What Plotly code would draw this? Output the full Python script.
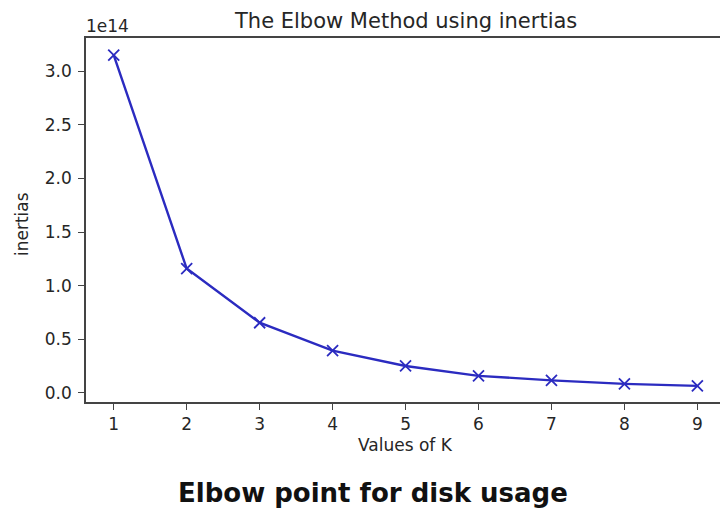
import plotly.graph_objects as go

# K-means inertia for each number of clusters
k_values = [1, 2, 3, 4, 5, 6, 7, 8, 9]
inertias = [3.15e14, 1.16e14, 0.655e14, 0.395e14, 0.252e14, 0.16e14, 0.118e14, 0.085e14, 0.066e14]

y_tick_vals = [0.0, 0.5e14, 1.0e14, 1.5e14, 2.0e14, 2.5e14, 3.0e14]
y_tick_text = ["0.0", "0.5", "1.0", "1.5", "2.0", "2.5", "3.0"]
x_tick_vals = k_values

title_text = "The Elbow Method using inertias"
x_label = "Values of K"
y_label = "inertias"
caption = "Elbow point for disk usage"
offset_text = "1e14"

W, H = 720, 510
L, R, T, B = 86, 0, 38, 108

text_color = "#262626"
axis_color = "#444444"
mpl_font = "DejaVu Sans"

fig = go.Figure()
fig.add_trace(go.Scatter(
    x=k_values, y=inertias,
    mode="lines+markers",
    line=dict(color="#2b2bc0", width=2.4),
    marker=dict(symbol="x-thin", size=11, line=dict(color="#2b2bc0", width=1.8)),
    showlegend=False,
))

fig.update_xaxes(
    range=[0.62, 9.31],
    tickvals=x_tick_vals,
    ticks="outside", ticklen=6, tickwidth=1.3, tickcolor=axis_color,
    showline=True, linecolor=axis_color, linewidth=1.6, mirror=True,
    showgrid=False, zeroline=False,
    tickfont=dict(family=mpl_font, size=17, color=text_color),
)
fig.update_yaxes(
    range=[-0.084e14, 3.31e14],
    tickvals=y_tick_vals, ticktext=y_tick_text,
    ticks="outside", ticklen=6, tickwidth=1.3, tickcolor=axis_color,
    ticklabelstandoff=3,
    showline=True, linecolor=axis_color, linewidth=1.6, mirror=False,
    showgrid=False, zeroline=False,
    tickfont=dict(family=mpl_font, size=17, color=text_color),
)

pw = W - L - R
ph = H - T - B

def px(x):
    return (x - L) / pw

def py(y):
    return (H - B - y) / ph

annotations = [
    dict(text=title_text, x=px(405), y=py(21), xref="paper", yref="paper",
         xanchor="center", yanchor="middle", showarrow=False,
         font=dict(family=mpl_font, size=21, color=text_color)),
    dict(text=offset_text, x=px(84), y=py(26), xref="paper", yref="paper",
         xanchor="left", yanchor="middle", showarrow=False,
         font=dict(family=mpl_font, size=17, color=text_color)),
    dict(text=x_label, x=px(405), y=py(445), xref="paper", yref="paper",
         xanchor="center", yanchor="middle", showarrow=False,
         font=dict(family=mpl_font, size=17, color=text_color)),
    dict(text=y_label, x=px(22), y=py(224), xref="paper", yref="paper",
         xanchor="center", yanchor="middle", showarrow=False, textangle=-90,
         font=dict(family=mpl_font, size=17, color=text_color)),
    dict(text="<b>" + caption + "</b>", x=px(373), y=py(493), xref="paper", yref="paper",
         xanchor="center", yanchor="middle", showarrow=False,
         font=dict(family=mpl_font, size=26, color="#111111")),
]

fig.update_layout(
    width=W, height=H,
    margin=dict(l=L, r=R, t=T, b=B),
    paper_bgcolor="white", plot_bgcolor="white",
    annotations=annotations,
)

fig.write_html("out.html")
